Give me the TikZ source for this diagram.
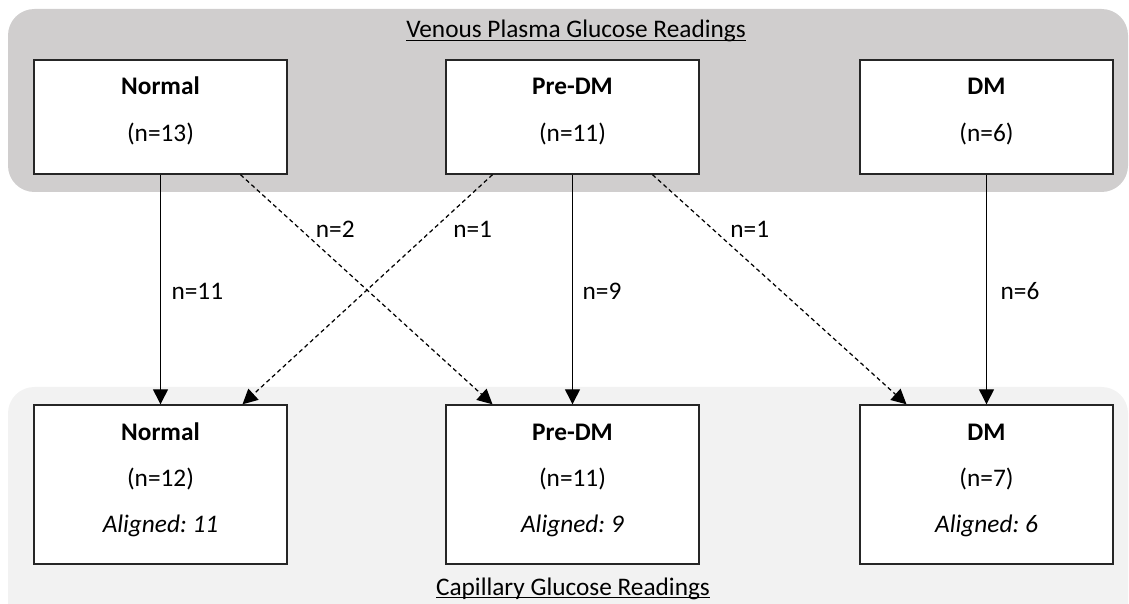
\documentclass[tikz,border=0pt]{standalone}
\usepackage{fontspec}
\setmainfont{Carlito}
\frenchspacing
\definecolor{vengray}{HTML}{D0CECE}
\definecolor{capgray}{HTML}{F2F2F2}
\usetikzlibrary{arrows.meta,positioning,calc}

\begin{document}
\begin{tikzpicture}[x=0.02cm, y=-0.02cm,
    font=\fontsize{14.4}{17}\selectfont,
    grpbox/.style={draw=black!85, fill=white, line width=0.8pt,
                   minimum width=5.06cm, inner sep=0pt},
    txt/.style={anchor=base, inner sep=0pt},
    arr/.style={line width=0.7pt, -{Triangle[length=8.5pt,width=8.5pt]}},
    darr/.style={arr, dash pattern=on 2.4pt off 1.8pt},
    cnt/.style={anchor=base west, inner sep=0pt}
  ]
    \useasboundingbox (0,0) rectangle (1129,604);

    % Panels
    \fill[vengray, rounded corners=15pt] (8,9) rectangle (1128,192);
    \fill[capgray, rounded corners=15pt] (8,387) rectangle (1128,640);
    \node[txt] (vtitle) at (576,38)
      {\underline{\smash{Venous Plasma Glucose Readings}}};
    \node[txt] (ctitle) at (573,595)
      {\underline{\smash{Capillary Glucose Readings}}};

    % Venous groups
    \node[grpbox, minimum height=2.28cm] (vn) at (160.5,117) {};
    \node[txt] (vn-a) at ($(vn.north)+(0,35)$) {\textbf{Normal}};
    \node[txt] (vn-b) at ($(vn.north)+(0,82)$) {(n=13)};

    \node[grpbox, minimum height=2.28cm] (vp) at (572.5,117) {};
    \node[txt] (vp-a) at ($(vp.north)+(0,35)$) {\textbf{Pre-DM}};
    \node[txt] (vp-b) at ($(vp.north)+(0,82)$) {(n=11)};

    \node[grpbox, minimum height=2.28cm] (vd) at (986.5,117) {};
    \node[txt] (vd-a) at ($(vd.north)+(0,35)$) {\textbf{DM}};
    \node[txt] (vd-b) at ($(vd.north)+(0,82)$) {(n=6)};

    % Capillary groups
    \node[grpbox, minimum height=3.18cm] (cn) at (160.5,484.5) {};
    \node[txt] (cn-a) at ($(cn.north)+(0,36)$) {\textbf{Normal}};
    \node[txt] (cn-b) at ($(cn.north)+(0,82)$) {(n=12)};
    \node[txt] (cn-c) at ($(cn.north)+(0,128)$) {\textit{Aligned: 11}};

    \node[grpbox, minimum height=3.18cm] (cp) at (572.5,484.5) {};
    \node[txt] (cp-a) at ($(cp.north)+(0,36)$) {\textbf{Pre-DM}};
    \node[txt] (cp-b) at ($(cp.north)+(0,82)$) {(n=11)};
    \node[txt] (cp-c) at ($(cp.north)+(0,128)$) {\textit{Aligned: 9}};

    \node[grpbox, minimum height=3.18cm] (cd) at (986.5,484.5) {};
    \node[txt] (cd-a) at ($(cd.north)+(0,36)$) {\textbf{DM}};
    \node[txt] (cd-b) at ($(cd.north)+(0,82)$) {(n=7)};
    \node[txt] (cd-c) at ($(cd.north)+(0,128)$) {\textit{Aligned: 6}};

    % Transitions
    \draw[arr] (vn) -- (cn)
      node[cnt, pos=0.545, xshift=0.21cm] {n=11};
    \draw[darr] ($(vn.south)+(80,0)$) -- ($(cp.north)+(-80,0)$)
      node[cnt, pos=0.273, xshift=0.12cm] {n=2};
    \draw[darr] ($(vp.south)+(-80,0)$) -- ($(cn.north)+(82,0)$)
      node[cnt, pos=0.273, xshift=0.57cm] {n=1};
    \draw[arr] (vp) -- (cp)
      node[cnt, pos=0.545, xshift=0.19cm] {n=9};
    \draw[darr] ($(vp.south)+(80,0)$) -- ($(cd.north)+(-80,0)$)
      node[cnt, pos=0.273, xshift=0.16cm] {n=1};
    \draw[arr] (vd) -- (cd)
      node[cnt, pos=0.545, xshift=0.27cm] {n=6};
  \end{tikzpicture}
\end{document}
